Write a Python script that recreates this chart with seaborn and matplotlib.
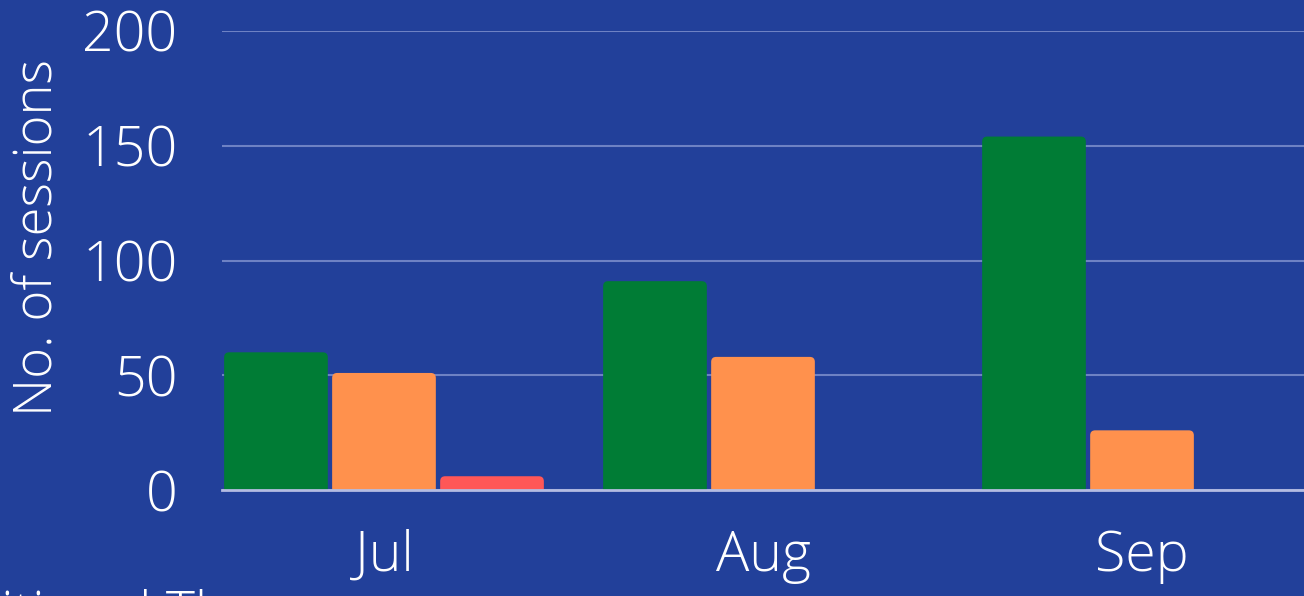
import matplotlib
matplotlib.use("Agg")
import matplotlib.pyplot as plt
import seaborn as sns
import pandas as pd
from matplotlib.patches import FancyBboxPatch

months = ["Jul", "Aug", "Sep"]
groups = ["A", "B", "C"]
values_a = [60, 91, 154]
values_b = [51, 58, 26]
values_c = [6, 0, 0]
colors = ["#007C35", "#FF914D", "#FF5757"]
y_ticks = [0, 50, 100, 150, 200]
bg = "#22409A"

sns.set_theme(style="white")
plt.rcParams["font.family"] = ["Open Sans", "DejaVu Sans"]

df = pd.DataFrame({
    "month": months * 3,
    "group": [g for g in groups for _ in months],
    "sessions": values_a + values_b + values_c,
})

fig = plt.figure(figsize=(13.04, 5.96), dpi=100, facecolor=bg)
ax = fig.add_axes([222 / 1304, 1 - 490 / 596, 1 - 222 / 1304, (490 - 31) / 596])
ax.set_facecolor(bg)

sns.barplot(data=df, x="month", y="sessions", hue="group", palette=colors,
            width=0.855, gap=0.04, saturation=1, legend=False, ax=ax)

# rounded top corners
rx = 5 / 379
ry = 5 / 2.295
for p in list(ax.patches):
    x, w, h = p.get_x(), p.get_width(), p.get_height()
    fc = p.get_facecolor()
    p.remove()
    if h <= 0:
        continue
    ax.add_patch(FancyBboxPatch((x + rx, -10), w - 2 * rx, h + 10 - ry,
                                boxstyle=f"round,pad={rx},rounding_size={rx}",
                                mutation_aspect=ry / rx, facecolor=fc,
                                edgecolor="none", zorder=2, clip_on=True))

ax.set_xlim(-0.4274, 2.4274)
ax.set_ylim(0, 200)
ax.set_yticks(y_ticks)
ax.grid(axis="y", color="#6E82C4", linewidth=1.5, zorder=0)
ax.set_axisbelow(True)
for s in ["top", "right", "left"]:
    ax.spines[s].set_visible(False)
ax.spines["bottom"].set_color("#B4BCE2")
ax.spines["bottom"].set_linewidth(2)
ax.spines["bottom"].set_zorder(3)

ax.tick_params(axis="both", length=0, labelsize=40, labelcolor="white")
ax.tick_params(axis="y", pad=32)
ax.tick_params(axis="x", pad=28)
for t in ax.get_xticklabels() + ax.get_yticklabels():
    t.set_fontweight("light")

ax.set_xlabel("")
ax.set_ylabel("No. of sessions", fontsize=38, color="white", fontweight="light")
ax.yaxis.set_label_coords(-0.146, 0.551)

# legend text cut off at the bottom edge
renderer = fig.canvas.get_renderer()
tmp = fig.text(0, 0, "Tradi", fontsize=40, fontweight="light")
wpx = tmp.get_window_extent(renderer).width
tmp.remove()
fig.text((14 - wpx) / 1304, 1 - 589 / 596, "Traditional Therapy", fontsize=40,
         color="white", fontweight="light", va="top")

fig.savefig("out.png", dpi=100, facecolor=bg)
